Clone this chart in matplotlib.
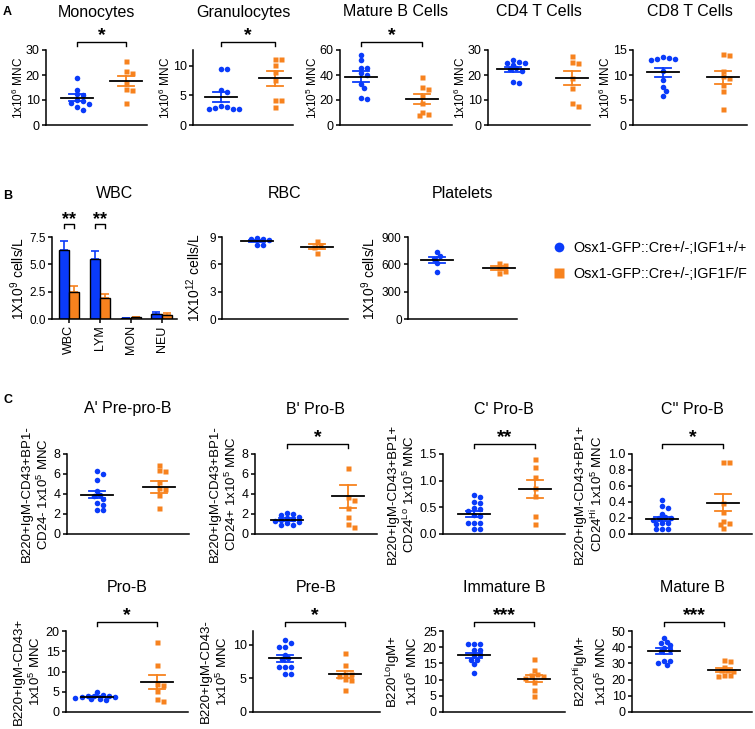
import numpy as np
import matplotlib.pyplot as plt
from matplotlib.lines import Line2D

plt.rcParams['font.family'] = ['Liberation Sans', 'DejaVu Sans']
plt.rcParams['mathtext.default'] = 'regular'

FIG_W, FIG_H = 755, 729
BLUE = '#0A3BFA'
ORANGE = '#F7821E'
GROUP_LABELS = ['Osx1-GFP::Cre+/-;IGF1+/+', 'Osx1-GFP::Cre+/-;IGF1F/F']

# ---- A: bone marrow populations (WT vs KO), mean and SEM ----
mono_wt = [18.7, 14.2, 12.3, 12.0, 10.2, 9.5, 9.0, 8.5, 7.2, 6.0]
mono_ko = [25.5, 21.5, 21.0, 17.0, 14.5, 14.0, 9.0]
mono_mean = [11.0, 17.7]
mono_sem = [1.3, 2.1]

gran_wt = [9.4, 9.4, 5.9, 5.6, 3.2, 3.1, 2.8, 2.7, 2.7, 2.7]
gran_ko = [11.2, 11.1, 10.2, 9.0, 7.6, 4.2, 4.3, 3.1]
gran_mean = [4.7, 7.9]
gran_sem = [0.85, 1.25]

matb_wt = [56, 52, 46, 46, 42, 40, 33, 30, 22, 21]
matb_ko = [38.6, 30.5, 29.0, 23.0, 17.5, 10.8, 9.0, 8.1]
matb_mean = [38.7, 21.0]
matb_sem = [4.2, 4.1]

cd4_wt = [26.0, 25.3, 25.0, 25.0, 24.0, 22.7, 22.3, 21.6, 17.3, 16.9]
cd4_ko = [27.7, 25.4, 24.7, 18.9, 14.9, 8.8, 7.7]
cd4_mean = [22.3, 19.0]
cd4_sem = [1.0, 2.8]

cd8_wt = [13.7, 13.5, 13.3, 13.2, 13.0, 10.8, 9.1, 7.6, 6.8, 5.9]
cd8_ko = [14.2, 14.1, 10.8, 9.8, 9.5, 8.1, 6.8, 3.2]
cd8_mean = [10.6, 9.6]
cd8_sem = [0.9, 1.3]

# ---- B: peripheral blood ----
wbc_cats = ['WBC', 'LYM', 'MON', 'NEU']
wbc_wt = [6.3, 5.5, 0.09, 0.49]
wbc_wt_sem = [0.82, 0.76, 0.02, 0.15]
wbc_ko = [2.5, 1.92, 0.15, 0.40]
wbc_ko_sem = [0.5, 0.4, 0.02, 0.15]

rbc_wt = [8.93, 8.8, 8.74, 8.7, 8.15, 8.08]
rbc_ko = [8.6, 8.15, 7.85, 7.2]
rbc_mean = [8.55, 7.95]
rbc_sem = [0.15, 0.3]

plat_wt = [735, 690, 660, 615, 520]
plat_ko = [620, 590, 560, 530, 500]
plat_mean = [645, 555]
plat_sem = [35, 22]

# ---- C: B cell development ----
pp_wt = [6.3, 6.0, 5.4, 4.3, 3.9, 3.8, 3.5, 3.1, 2.9, 2.4, 2.4]
pp_ko = [6.9, 6.4, 6.3, 5.2, 4.6, 4.5, 3.9, 2.6]
pp_mean = [3.95, 4.75]
pp_sem = [0.38, 0.6]

bpro_wt = [2.1, 2.0, 1.9, 1.7, 1.6, 1.5, 1.4, 1.3, 1.2, 1.1, 0.95, 0.9]
bpro_ko = [6.6, 3.7, 3.4, 2.6, 1.7, 1.0, 0.7]
bpro_mean = [1.45, 3.8]
bpro_sem = [0.12, 1.15]

cpro_wt = [0.73, 0.70, 0.60, 0.58, 0.48, 0.46, 0.44, 0.36, 0.33, 0.20, 0.20, 0.20, 0.09, 0.09]
cpro_ko = [1.40, 1.25, 1.06, 0.86, 0.71, 0.34, 0.19]
cpro_mean = [0.37, 0.85]
cpro_sem = [0.06, 0.17]

ccpro_wt = [0.42, 0.35, 0.33, 0.25, 0.21, 0.20, 0.20, 0.18, 0.14, 0.14, 0.12, 0.06, 0.06, 0.06]
ccpro_ko = [0.90, 0.90, 0.39, 0.28, 0.16, 0.14, 0.12, 0.07]
ccpro_mean = [0.19, 0.39]
ccpro_sem = [0.025, 0.105]

prob_wt = [4.9, 4.2, 4.0, 4.0, 3.9, 3.8, 3.7, 3.5, 3.3, 3.1, 3.0]
prob_ko = [17.3, 11.7, 7.0, 6.6, 5.3, 3.3, 2.6]
prob_mean = [3.8, 7.5]
prob_sem = [0.18, 1.7]

preb_wt = [10.6, 10.2, 9.7, 9.7, 8.5, 8.0, 7.9, 6.7, 6.6, 6.6, 5.7, 5.7]
preb_ko = [8.8, 7.0, 5.6, 5.6, 5.4, 4.9, 4.7, 3.3]
preb_mean = [7.95, 5.6]
preb_sem = [0.48, 0.5]

immb_wt = [20.9, 20.9, 20.9, 19.1, 19.1, 17.5, 17.5, 16.2, 16.0, 14.9, 12.1]
immb_ko = [16.5, 12.9, 11.6, 11.4, 11.0, 10.6, 9.3, 6.7, 4.8]
immb_mean = [17.5, 10.3]
immb_sem = [0.7, 1.1]

matb2_wt = [45.5, 43.5, 42.9, 41.4, 39.8, 38.5, 37.8, 31.6, 31.6, 30.5, 29.2]
matb2_ko = [32.0, 31.6, 28.0, 25.9, 25.9, 25.5, 23.0, 22.4, 23.0]
matb2_mean = [37.5, 26.0]
matb2_sem = [1.8, 1.3]


def add_ax(fig, x0, x1, ytop, ybot):
    return fig.add_axes([x0 / FIG_W, 1 - ybot / FIG_H, (x1 - x0) / FIG_W, (ybot - ytop) / FIG_H])


def px_size(ax):
    pos = ax.get_position()
    return pos.width * FIG_W, pos.height * FIG_H


def style(ax, fs):
    for s in ['top', 'right']:
        ax.spines[s].set_visible(False)
    for s in ['left', 'bottom']:
        ax.spines[s].set_linewidth(1.1)
    ax.tick_params(axis='y', length=3, width=1.1, labelsize=fs, pad=1.5)
    ax.set_xticks([])


def swarm(values, px_y, px_x, diam=4.4):
    # simple beeswarm: push points sideways until they don't overlap (much)
    vals = np.asarray(values, float)
    offs = np.zeros(len(vals))
    placed = []
    cands = [0]
    for k in range(1, 10):
        cands += [k, -k]
    for i in np.argsort(-vals):
        y = vals[i] * px_y
        for k in cands:
            x = k * diam * 0.7
            if all((x - a) ** 2 + (y - b) ** 2 >= diam ** 2 for a, b in placed):
                break
        placed.append((x, y))
        offs[i] = x / px_x
    return offs


def scatter_panel(ax, wt, ko, mean, sem, ylim, yticks, box, fs=9, fmt=None):
    x0, x1, c0, c1 = box
    sp = c1 - c0
    ax.set_xlim((x0 - c0) / sp, (x1 - c0) / sp)
    ax.set_ylim(ylim)
    w, h = px_size(ax)
    px_x = w / (ax.get_xlim()[1] - ax.get_xlim()[0])
    px_y = h / (ylim[1] - ylim[0])
    hw, cw = 16 / px_x, 8 / px_x
    for gi, (vals, color, marker, ms) in enumerate([(wt, BLUE, 'o', 4.0), (ko, ORANGE, 's', 3.6)]):
        xs = gi + swarm(vals, px_y, px_x)
        ax.plot(xs, vals, ls='none', marker=marker, ms=ms, color=color, mec='none',
                clip_on=False, zorder=3)
        lo, hi = mean[gi] - sem[gi], mean[gi] + sem[gi]
        ax.plot([gi, gi], [lo, hi], color=color, lw=1.3, zorder=4)
        ax.plot([gi - cw, gi + cw], [hi, hi], color=color, lw=1.3, zorder=4)
        ax.plot([gi - cw, gi + cw], [lo, lo], color=color, lw=1.3, zorder=4)
        ax.plot([gi - hw, gi + hw], [mean[gi]] * 2, color='black', lw=1.3, zorder=5)
    style(ax, fs)
    ax.set_yticks(yticks)
    if fmt:
        ax.set_yticklabels([fmt.format(t) for t in yticks])


def ylabel_at(ax, text, fs, left_px):
    # right edge of the (rotated) label sits left_px pixels left of the spine
    w, _ = px_size(ax)
    ax.set_ylabel(text, fontsize=fs)
    ax.yaxis.set_label_coords(-left_px / w, 0.5)


def title(ax, text, above_px, fs=11.5):
    _, h = px_size(ax)
    ax.text(0.5, 1 + above_px / h, text, transform=ax.transAxes, ha='center', va='center',
            fontsize=fs)


def bracket(ax, xa, xb, label, above_px, star_px, fs=14):
    _, h = px_size(ax)
    tr = ax.get_xaxis_transform()
    yb = 1 + above_px / h
    yl = yb - 4 / h
    ax.plot([xa, xa, xb, xb], [yl, yb, yb, yl], transform=tr, color='black', lw=1,
            clip_on=False)
    ax.text((xa + xb) / 2, 1 + star_px / h, label, transform=tr, ha='center', va='baseline',
            fontsize=fs, fontweight='bold')


def main():
    fig = plt.figure(figsize=(FIG_W / 100, FIG_H / 100), dpi=100)

    # ---------------- Row A ----------------
    ya = (50, 125)
    row_a = [
        ('Monocytes', mono_wt, mono_ko, mono_mean, mono_sem, (0, 30), [0, 10, 20, 30],
         (46, 147, 77, 126), r'1x10$^6$ MNC', '*'),
        ('Granulocytes', gran_wt, gran_ko, gran_mean, gran_sem, (0, 12.7), [0, 5, 10],
         (193, 293, 221, 275), r'1x10$^6$ MNC', '*'),
        ('Mature B Cells', matb_wt, matb_ko, matb_mean, matb_sem, (0, 60), [0, 20, 40, 60],
         (340, 452, 361, 422), r'1x10$^5$ MNC', '*'),
        ('CD4 T Cells', cd4_wt, cd4_ko, cd4_mean, cd4_sem, (0, 30), [0, 10, 20, 30],
         (488, 590, 513, 572), r'1x10$^6$ MNC', None),
        ('CD8 T Cells', cd8_wt, cd8_ko, cd8_mean, cd8_sem, (0, 15), [0, 5, 10, 15],
         (633, 747, 663, 723), r'1x10$^6$ MNC', None),
    ]
    for name, wt, ko, mn, se, yl, yt, box, ylab, sig in row_a:
        ax = add_ax(fig, box[0], box[1], *ya)
        scatter_panel(ax, wt, ko, mn, se, yl, yt, box, fs=9)
        ylabel_at(ax, ylab, 8.5, 20)
        title(ax, name, 38)
        if sig:
            bracket(ax, 0, 1, sig, 8, 10)

    # ---------------- Row B ----------------
    yb = (237, 319)
    ax = add_ax(fig, 52, 177, *yb)
    x = np.arange(len(wbc_cats))
    bw = 0.33
    ax.bar(x - bw / 2, wbc_wt, bw, color=BLUE, edgecolor='black', lw=1, zorder=2)
    ax.bar(x + bw / 2, wbc_ko, bw, color=ORANGE, edgecolor='black', lw=1, zorder=2)
    ax.errorbar(x - bw / 2, wbc_wt, yerr=[np.zeros(4), wbc_wt_sem], fmt='none', ecolor=BLUE,
                elinewidth=1.2, capsize=3, capthick=1.2, zorder=1)
    ax.errorbar(x + bw / 2, wbc_ko, yerr=[np.zeros(4), wbc_ko_sem], fmt='none', ecolor=ORANGE,
                elinewidth=1.2, capsize=3, capthick=1.2, zorder=1)
    ax.set_xlim(-0.55, 3.5)
    ax.set_ylim(0, 7.5)
    style(ax, 8.5)
    ax.set_yticks([0, 2.5, 5, 7.5])
    ax.set_yticklabels(['0.0', '2.5', '5.0', '7.5'])
    ax.set_xticks(x)
    ax.set_xticklabels(wbc_cats, rotation=90, fontsize=9)
    ax.tick_params(axis='x', length=3, width=1.1, pad=1.5)
    ylabel_at(ax, r'1X10$^9$ cells/L', 10, 25)
    title(ax, 'WBC', 43)
    for i in range(2):
        bracket(ax, x[i] - bw / 2, x[i] + bw / 2, '**', 13, 13, fs=13)

    ax = add_ax(fig, 222, 348, *yb)
    scatter_panel(ax, rbc_wt, rbc_ko, rbc_mean, rbc_sem, (0, 9), [0, 3, 6, 9],
                  (222, 348, 257, 317), fs=8.5)
    ylabel_at(ax, r'1X10$^{12}$ cells/L', 10, 19)
    title(ax, 'RBC', 43)

    ax = add_ax(fig, 408, 517, *yb)
    scatter_panel(ax, plat_wt, plat_ko, plat_mean, plat_sem, (0, 900), [0, 300, 600, 900],
                  (408, 517, 437, 499), fs=8.5)
    ylabel_at(ax, r'1X10$^9$ cells/L', 10, 30)
    title(ax, 'Platelets', 44)

    handles = [Line2D([], [], ls='none', marker='o', ms=7, color=BLUE, mec='none'),
               Line2D([], [], ls='none', marker='s', ms=7, color=ORANGE, mec='none')]
    fig.legend(handles, GROUP_LABELS, loc='upper left', bbox_to_anchor=(552 / FIG_W, 1 - 241 / FIG_H),
               frameon=False, fontsize=10.4, handlelength=1.0, handletextpad=0.5,
               labelspacing=0.85, borderaxespad=0, borderpad=0)

    # ---------------- Row C (top) ----------------
    yc1 = (454, 534)
    row_c1 = [
        ("A' Pre-pro-B", pp_wt, pp_ko, pp_mean, pp_sem, (0, 8), [0, 2, 4, 6, 8], None,
         (67, 189, 97, 159), 'B220+IgM-CD43+BP1-\nCD24- 1x10$^5$ MNC', None),
        ("B' Pro-B", bpro_wt, bpro_ko, bpro_mean, bpro_sem, (0, 8), [0, 2, 4, 6, 8], None,
         (255, 377, 287, 348), 'B220+IgM-CD43+BP1-\nCD24+ 1x10$^5$ MNC', '*'),
        ("C' Pro-B", cpro_wt, cpro_ko, cpro_mean, cpro_sem, (0, 1.5), [0, 0.5, 1.0, 1.5], '{:.1f}',
         (443, 565, 474, 535), 'B220+IgM-CD43+BP1+\nCD24$^{Lo}$ 1x10$^5$ MNC', '**'),
        ("C'' Pro-B", ccpro_wt, ccpro_ko, ccpro_mean, ccpro_sem, (0, 1.0),
         [0, 0.2, 0.4, 0.6, 0.8, 1.0], '{:.1f}',
         (632, 752, 662, 723), 'B220+IgM-CD43+BP1+\nCD24$^{Hi}$ 1x10$^5$ MNC', '*'),
    ]
    for name, wt, ko, mn, se, yl, yt, fmt, box, ylab, sig in row_c1:
        ax = add_ax(fig, box[0], box[1], *yc1)
        scatter_panel(ax, wt, ko, mn, se, yl, yt, box, fs=9, fmt=fmt)
        ax.set_ylabel(ylab, fontsize=9.5, labelpad=2)
        title(ax, name, 45)
        if sig:
            bracket(ax, 0, 1, sig, 10, 12)

    # ---------------- Row C (bottom) ----------------
    yc2 = (631, 712)
    row_c2 = [
        ('Pro-B', prob_wt, prob_ko, prob_mean, prob_sem, (0, 20), [0, 5, 10, 15, 20],
         (66, 188, 97, 157), 'B220+IgM-CD43+\n1x10$^5$ MNC', '*'),
        ('Pre-B', preb_wt, preb_ko, preb_mean, preb_sem, (0, 12), [0, 5, 10],
         (253, 380, 285, 345), 'B220+IgM-CD43-\n1x10$^5$ MNC', '*'),
        ('Immature B', immb_wt, immb_ko, immb_mean, immb_sem, (0, 25), [0, 5, 10, 15, 20, 25],
         (443, 565, 474, 534), 'B220$^{Lo}$IgM+\n1x10$^5$ MNC', '***'),
        ('Mature B', matb2_wt, matb2_ko, matb2_mean, matb2_sem, (0, 50),
         [0, 10, 20, 30, 40, 50],
         (632, 752, 664, 724), 'B220$^{Hi}$IgM+\n1x10$^5$ MNC', '***'),
    ]
    for name, wt, ko, mn, se, yl, yt, box, ylab, sig in row_c2:
        ax = add_ax(fig, box[0], box[1], *yc2)
        scatter_panel(ax, wt, ko, mn, se, yl, yt, box, fs=9)
        ax.set_ylabel(ylab, fontsize=9.5, labelpad=2)
        title(ax, name, 44)
        if sig:
            bracket(ax, 0, 1, sig, 9, 11)

    # panel letters
    for letter, ypx in [('A', 12), ('B', 196), ('C', 400)]:
        fig.text(3 / FIG_W, 1 - ypx / FIG_H, letter, fontsize=9, fontweight='bold',
                 ha='left', va='center')

    fig.savefig('out.png', dpi=100)


if __name__ == '__main__':
    main()
